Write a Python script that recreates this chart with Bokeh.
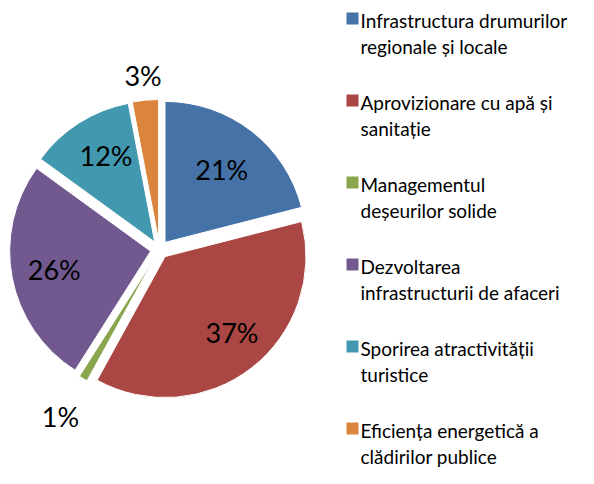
import math
from bokeh.plotting import figure
from bokeh.models import Range1d, ColumnDataSource
from bokeh.core.properties import value
from bokeh.embed import file_html
from bokeh.resources import INLINE

# ---- data ----
categories = [
    "Infrastructura drumurilor\nregionale și locale",
    "Aprovizionare cu apă și\nsanitație",
    "Managementul\ndeșeurilor solide",
    "Dezvoltarea\ninfrastructurii de afaceri",
    "Sporirea atractivității\nturistice",
    "Eficiența energetică a\nclădirilor publice",
]
shares = [21, 37, 1, 26, 12, 3]
labels = ["21%", "37%", "1%", "26%", "12%", "3%"]
colors = ["#4572A7", "#AA4643", "#89A54E", "#71588F", "#4198AF", "#DB843D"]

# ---- layout / style ----
W, H = 578, 468
TOP = 484
CX, CY = 159, TOP - 249   # pie centre (y up)
R = 141
EXPLODE = 9
label_rf = [0.72, 0.78, 1.38, 0.76, 0.77, 1.24]   # label distance / R
label_da = [0.0, -0.06, 0.0, 0.0, 0.05, 0.0]      # small angular nudges (rad)
FONT = "Lato"

p = figure(width=W, height=H, output_backend="svg", toolbar_location=None,
           x_range=Range1d(0, W), y_range=Range1d(TOP - H, TOP),
           min_border=0)
p.axis.visible = False
p.grid.visible = False
p.outline_line_color = None
p.background_fill_color = "white"
p.border_fill_color = "white"

total = float(sum(shares))
cum = 0.0
xs, ys, sa, ea, lx, ly = [], [], [], [], [], []
for i, v in enumerate(shares):
    f0 = cum / total
    f1 = (cum + v) / total
    fm = (f0 + f1) / 2
    a0 = math.pi / 2 - 2 * math.pi * f0
    a1 = math.pi / 2 - 2 * math.pi * f1
    am = math.pi / 2 - 2 * math.pi * fm
    xs.append(CX + EXPLODE * math.cos(am))
    ys.append(CY + EXPLODE * math.sin(am))
    sa.append(a0)
    ea.append(a1)
    al = am - label_da[i]
    lx.append(CX + R * label_rf[i] * math.cos(al))
    ly.append(CY + R * label_rf[i] * math.sin(al))
    cum += v

src = ColumnDataSource(dict(x=xs, y=ys, sa=sa, ea=ea, color=colors,
                            lx=lx, ly=ly, label=labels))
p.wedge(x="x", y="y", radius=R, start_angle="sa", end_angle="ea",
        direction="clock", fill_color="color", line_color="white",
        line_width=1, source=src)
p.text(x="lx", y="ly", text="label", source=src, text_font=value(FONT),
       text_font_size="27px", text_align="center", text_baseline="middle",
       text_color="#000000")

# ---- legend ----
LEG_X = 352
LEG_TOP = TOP - 18
LEG_STEP = 82.0
n = len(categories)
leg_sq_y = [LEG_TOP - i * LEG_STEP for i in range(n)]
leg_txt_y = [y - 15 for y in leg_sq_y]
leg = ColumnDataSource(dict(x=[LEG_X] * n, y=leg_sq_y,
                            tx=[LEG_X + 8] * n, ty=leg_txt_y,
                            color=colors, text=categories))
p.rect(x="x", y="y", width=12, height=12, fill_color="color",
       line_color=None, source=leg)
p.text(x="tx", y="ty", text="text", source=leg, text_font=value(FONT),
       text_font_size="19px", text_align="left", text_baseline="middle",
       text_line_height=1.12, text_color="#000000")

open("out.html", "w").write(file_html(p, INLINE))
